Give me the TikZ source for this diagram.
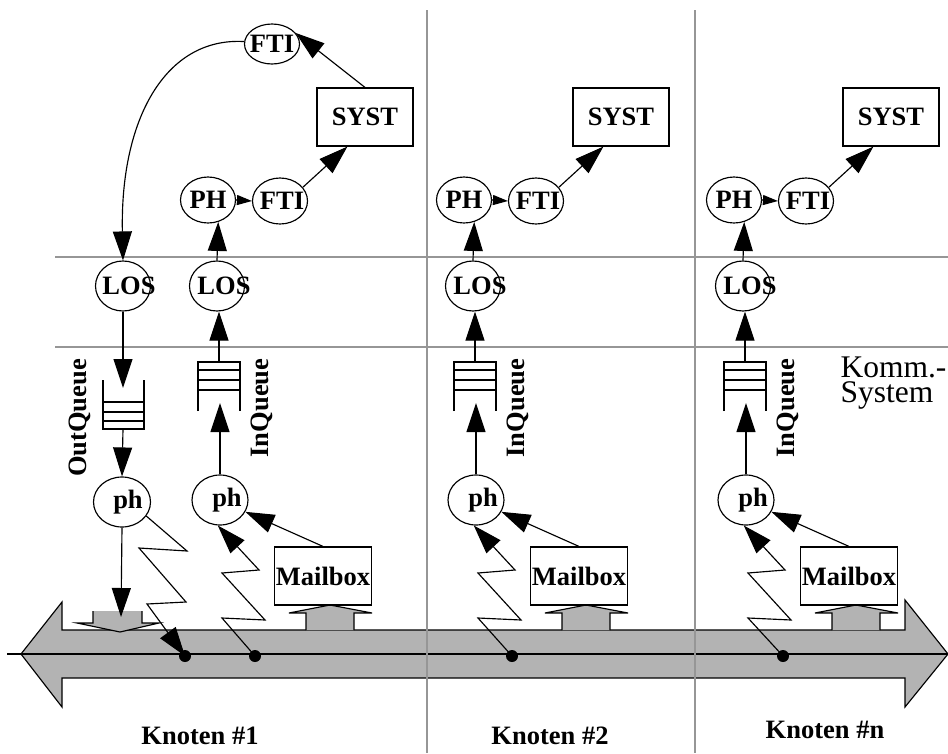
\documentclass[tikz,border=0pt]{standalone}
\usepackage{fontspec}
\setmainfont{Liberation Serif}
\usetikzlibrary{shapes.geometric,arrows.meta,calc}
\definecolor{bargray}{RGB}{179,179,179}
\definecolor{gridgray}{RGB}{150,150,150}
\begin{document}
\begin{tikzpicture}[x=1pt,y=-1pt, line width=1.15pt,
  ell/.style={draw, ellipse, minimum width=55pt, minimum height=48pt, inner sep=0pt},
  lbl/.style={font=\fontsize{26.5}{30}\selectfont\bfseries, inner sep=0pt},
  box/.style={draw, rectangle, minimum width=96pt, minimum height=58pt, inner sep=0pt, font=\fontsize{26.5}{30}\selectfont\bfseries},
  arr/.style={-{Triangle[length=29pt,width=19pt]}},
  sarr/.style={-{Triangle[length=15pt,width=10pt]}},
  dotn/.style={circle, fill=black, minimum size=12pt, inner sep=0pt},
  gridl/.style={draw=gridgray, line width=1.2pt},
  komm/.style={font=\fontsize{31.5}{25}\selectfont, align=left, anchor=base west, inner sep=0pt}]
\useasboundingbox (0,0) rectangle (948,753);

% big double arrow (bus)
\filldraw[fill=bargray] (21,654) -- (62,602) -- (62,630) -- (905,630) -- (905,600) -- (948,654) -- (905,707) -- (905,678) -- (62,678) -- (62,707) -- cycle;
\draw (7,654) -- (948,654);

% grid lines
\draw[gridl] (55,257) -- (948,257);
\draw[gridl] (55,347) -- (948,347);
\draw[gridl] (427,10) -- (427,753);
\draw[gridl] (695,10) -- (695,753);

% down block arrow (OutQueue side)
\fill[bargray] (93,611) -- (93,623) -- (77,623) -- (120,632) -- (159,623) -- (142,623) -- (142,611) -- cycle;
\draw (93,611) -- (93,623) -- (77,623) -- (120,632) -- (159,623) -- (142,623) -- (142,611);

% columns with InQueue
\foreach \c/\X/\D in {b/217/255, c/473/512, n/743/783} {
  \node[ell, minimum height=46pt] (PH\c) at ({\X-9},200) {};
  \node[lbl] (PHt\c) at (PH\c.center) {PH};
  \node[ell, minimum height=46pt] (FTI\c) at ({\X+63},201) {};
  \node[lbl] (FTIt\c) at ([xshift=2pt]FTI\c.center) {FTI};
  \node[box] (SYST\c) at ({\X+148},117) {SYST};
  \node[ell, minimum height=50pt] (LOS\c) at (\X,286) {};
  \node[lbl] (LOSt\c) at ([xshift=7pt]LOS\c.center) {LOS};
  \draw ({\X-19},411) -- ({\X-19},362) -- ({\X+23},362) -- ({\X+23},411);
  \draw ({\X-19},370) -- ({\X+23},370) ({\X-19},380) -- ({\X+23},380) ({\X-19},390) -- ({\X+23},390);
  \coordinate (IQtop\c) at ({\X+2},362);
  \coordinate (IQin\c) at ({\X+2},403);
  \node[lbl, rotate=90] (IQt\c) at ({\X+45},408) {InQueue};
  \node[ell, minimum width=56pt, minimum height=50pt] (ph\c) at ({\X+3},500) {};
  \node[lbl] (pht\c) at ([xshift=7pt]ph\c.center) {ph};
  \filldraw[fill=bargray] ({\X+89},630) -- ({\X+89},613) -- ({\X+72},613) -- ({\X+113},605) -- ({\X+155},613) -- ({\X+137},613) -- ({\X+137},630);
  \node[box, minimum width=97pt] (MB\c) at ({\X+106},576) {Mailbox};
  \node[dotn] (dot\c) at (\D,656) {};
  \draw[arr] (LOS\c.north) -- (PH\c.-65);
  \draw[sarr] (PH\c.east) -- (FTI\c.west);
  \draw[arr] (FTI\c.31) -- ($(SYST\c.south west)+(31,0)$);
  \draw[arr] (IQtop\c) -- (IQtop\c |- LOS\c.south);
  \draw[arr] (ph\c.north) -- (ph\c.north |- IQin\c);
  \draw[arr] (MB\c.north) -- (ph\c.-25);
  \draw[arr] (dot\c.center) -- ({\X+5},618) -- ({\X+48},620) -- ({\X+5},573) -- ({\X+42},570) -- (ph\c.265);
}

% column 1, outgoing path
\node[ell, minimum height=40pt] (FTItop) at (272,44) {};
\node[lbl] (FTIttop) at (FTItop.center) {FTI};
\draw[arr] (SYSTb.north) -- (FTItop.25);
\node[ell, minimum height=50pt] (LOS1) at (123,286) {};
\node[lbl] (LOSt1) at ([xshift=6pt]LOS1.center) {LOS};
\draw[arr] (FTItop.175) .. controls (165,37) and (120,120) .. (LOS1.north);
\draw (103,380) -- (103,429) -- (144,429) -- (144,380);
\draw (103,402) -- (144,402) (103,412) -- (144,412) (103,421) -- (144,421);
\coordinate (OQin) at (123,388);
\coordinate (OQout) at (123,429);
\draw[arr] (LOS1.south) -- (OQin);
\node[lbl, rotate=90] (OQt) at (80,418) {OutQueue};
\node[ell, minimum width=57pt, minimum height=50pt] (ph1) at (122,502) {};
\node[lbl] (pht1) at ([xshift=6pt]ph1.center) {ph};
\draw[arr] (OQout) -- (ph1.north);
\coordinate (BAin) at (121,617);
\draw[arr] (ph1.south) -- (BAin);
\node[dotn] (dot1) at (185,656) {};
\draw[arr] (ph1.-30) -- (187,551) -- (139,548) -- (186,602) -- (147,604) -- (dot1.center);

% labels
\node[komm] (KS) at (840,402) {Komm.-\\System};
\node[lbl, anchor=base] (K1) at (200,744) {Knoten \#1};
\node[lbl, anchor=base] (K2) at (550,744) {Knoten \#2};
\node[lbl, anchor=base] (Kn) at (825,738) {Knoten \#n};
\end{tikzpicture}
\end{document}
